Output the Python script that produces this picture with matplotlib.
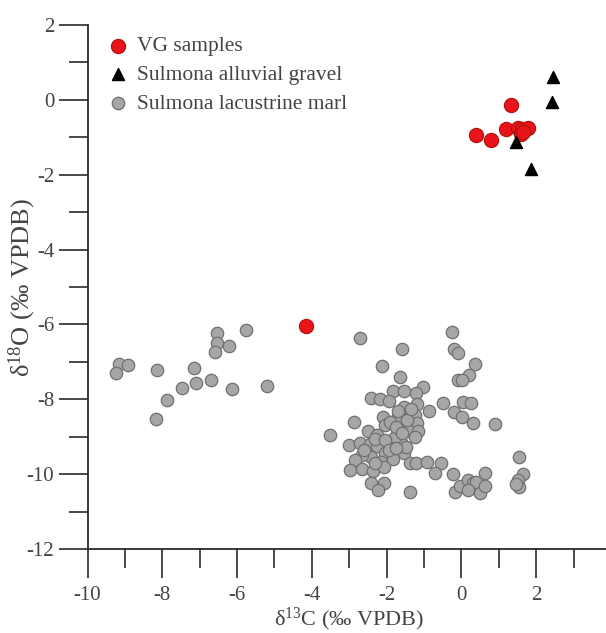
import numpy as np
import matplotlib
matplotlib.use("Agg")
import matplotlib.pyplot as plt

plt.rcParams["font.family"] = ["Liberation Serif", "DejaVu Serif"]
plt.rcParams["mathtext.fontset"] = "custom"
plt.rcParams["mathtext.rm"] = "Liberation Serif"
plt.rcParams["mathtext.default"] = "regular"
plt.rcParams["axes.unicode_minus"] = False

# VG samples
vg_c = [1.33, 0.40, 0.80, 1.20, 1.50, 1.62, 1.78, 1.58, 1.65, -4.16]
vg_o = [-0.14, -0.94, -1.07, -0.78, -0.75, -0.78, -0.74, -0.92, -0.85, -6.04]

# Sulmona alluvial gravel
grav_c = [2.45, 2.42, 1.47, 1.85]
grav_o = [0.60, -0.06, -1.12, -1.86]

# Sulmona lacustrine marl
marl_c = [-9.16, -8.93, -9.25, -8.14, -7.87, -8.17, -7.48, -7.10, -7.15, -6.71,
          -6.13, -6.55, -6.55, -6.58, -6.22, -5.77, -5.20,
          -2.72, -1.60, -0.24, -0.21, -0.09, 0.36, 0.20, -0.09, 0.02, -2.12,
          -1.64, -1.83, -1.54, -1.03, -1.21, -2.41, -2.19, -1.94, -1.54, -1.19,
          -0.87, -0.49, 0.04, 0.25, -0.20, 0.01, 0.31, 0.90, -2.11, -2.04,
          -1.70, -1.25, -1.19, -2.87, -2.50, -2.27, -1.65, -1.40, -1.16, -1.25,
          -3.52, -3.00, -2.72, -2.45, -2.25, -1.87, -1.61, -1.78, -2.05, -2.41,
          -2.67, -2.85, -2.16, -1.83, -1.54, -1.47, -1.38, -1.21, -0.92, -0.54,
          -2.97, -2.67, -2.36, -2.07, -0.72, -0.23, 0.62, -2.43, -2.08, -2.23,
          -1.37, -0.18, -0.05, 0.17, 0.31, 0.40, 0.17, 0.49, 0.62,
          1.55, 1.65, 1.50, 1.55, 1.45,
          -1.90, -1.75, -1.60, -2.30, -2.05, -1.45, -2.60, -1.95, -1.75, -2.30,
          -1.70, -1.35]
marl_o = [-7.06, -7.08, -7.31, -7.22, -8.02, -8.53, -7.71, -7.57, -7.17, -7.48,
          -7.73, -6.24, -6.49, -6.74, -6.57, -6.15, -7.65,
          -6.35, -6.65, -6.21, -6.65, -6.75, -7.06, -7.35, -7.48, -7.48, -7.10,
          -7.40, -7.77, -7.77, -7.68, -7.82, -7.96, -7.99, -8.05, -8.20, -8.13,
          -8.30, -8.11, -8.06, -8.11, -8.35, -8.48, -8.64, -8.66, -8.46, -8.70,
          -8.44, -8.42, -8.64, -8.62, -8.84, -8.95, -8.82, -8.84, -8.86, -9.00,
          -8.95, -9.22, -9.18, -9.19, -9.25, -9.22, -9.13, -9.00, -9.44, -9.53,
          -9.49, -9.62, -9.67, -9.60, -9.44, -9.28, -9.69, -9.69, -9.68, -9.71,
          -9.89, -9.87, -9.91, -9.82, -9.98, -10.00, -9.96, -10.23, -10.23, -10.42,
          -10.47, -10.47, -10.33, -10.16, -10.24, -10.20, -10.42, -10.51, -10.33,
          -9.55, -10.00, -10.15, -10.35, -10.25,
          -8.60, -8.75, -8.90, -9.05, -9.10, -8.55, -9.35, -9.35, -9.30, -9.70,
          -8.30, -8.25]

fig = plt.figure(figsize=(6.06, 6.33), dpi=100)
ax = fig.add_axes([87.5 / 606, 1 - 549 / 633, 523.5 / 606, 524 / 633])

ax.scatter(marl_c, marl_o, s=80, c="#a6a6a6", edgecolors="#707070", linewidths=0.9,
           label="Sulmona lacustrine marl", zorder=2)
ax.scatter(vg_c, vg_o, s=105, c="#e8141a", edgecolors="#b01010", linewidths=0.8,
           label="VG samples", zorder=3)
ax.scatter(grav_c, grav_o, s=75, marker="^", c="black", label="Sulmona alluvial gravel",
           zorder=4)

ax.set_xlim(-10, 4)
ax.set_ylim(-12, 2)
ax.set_xticks(np.arange(-10, 5, 2))
ax.set_xticks(np.arange(-9, 4, 2), minor=True)
ax.set_yticks(np.arange(-12, 3, 2))
ax.set_yticks(np.arange(-11, 2, 2), minor=True)

for side in ["top", "right"]:
    ax.spines[side].set_visible(False)
for side in ["left", "bottom"]:
    ax.spines[side].set_color("#2a2a2a")
    ax.spines[side].set_linewidth(1.3)
    ax.spines[side].set_clip_on(False)

ax.tick_params(which="major", direction="out", length=21, width=1.2, color="#2a2a2a",
               labelsize=15, labelcolor="#444444")
ax.tick_params(which="minor", direction="out", length=14, width=1.2, color="#2a2a2a")
ax.tick_params(axis="x", pad=6)
ax.tick_params(axis="y", pad=3)

ax.set_xlabel("δ$^{13}$C (‰ VPDB)", fontsize=16, color="#444444", labelpad=0)
ax.set_ylabel("δ$^{18}$O (‰ VPDB)", fontsize=19, color="#444444")
ax.yaxis.set_label_coords(-0.094, 0.5)

handles, labels = ax.get_legend_handles_labels()
order = [1, 2, 0]
leg = ax.legend([handles[i] for i in order], [labels[i] for i in order],
                loc="upper left", bbox_to_anchor=(0.017, 0.995), frameon=False,
                fontsize=15.5, handletextpad=0.3, labelspacing=0.4, borderaxespad=0,
                handlelength=1.2, labelcolor="#444444")

fig.savefig("out.png", dpi=100)
